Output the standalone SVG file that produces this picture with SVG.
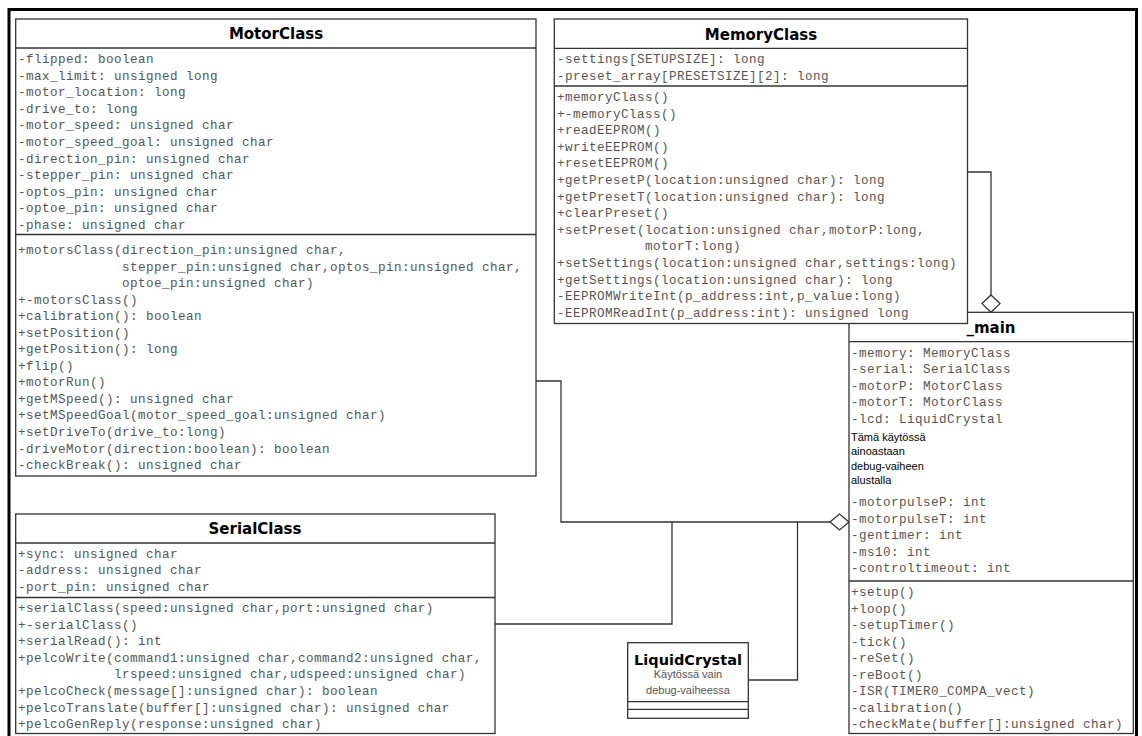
<svg xmlns="http://www.w3.org/2000/svg" width="1142" height="736" viewBox="0 0 1142 736">
<style>
.box{fill:#fff;stroke:#333;stroke-width:1.3}
.sep{stroke:#333;stroke-width:1.3}
.t{font-family:"Liberation Mono",monospace;font-size:12.6px;letter-spacing:0.44px;fill:#555}
.title{font-family:"DejaVu Sans",sans-serif;font-weight:bold;font-size:15px;text-anchor:middle;fill:#000}
.note{font-family:"Liberation Sans",sans-serif;font-size:11px;fill:#000}
.sub{font-family:"Liberation Sans",sans-serif;font-size:11px;fill:#555;text-anchor:middle}
.conn{fill:none;stroke:#333;stroke-width:1.3}
.dia{fill:#fff;stroke:#333;stroke-width:1.3}
</style>
<rect x="9" y="9.5" width="1127.5" height="760" fill="none" stroke="#000" stroke-width="3"/>

<g id="connectors">
<polyline class="conn" points="967.5,172 991,172 991,295"/>
<polygon class="dia" points="991,295 1000,303.6 991,312.3 982,303.6"/>
<polyline class="conn" points="536,381 561,381 561,522 830,522"/>
<polyline class="conn" points="495,624 672,624 672,522"/>
<polyline class="conn" points="748.3,680 797.5,680 797.5,522"/>
<polygon class="dia" points="830,522 839.5,514 849,522 839.5,530"/>
</g>

<g id="MotorClass">
<rect class="box" x="15.7" y="19" width="520.3" height="457"/>
<line class="sep" x1="15.7" y1="48" x2="536" y2="48"/>
<line class="sep" x1="15.7" y1="234.5" x2="536" y2="234.5"/>
<text class="title" x="276" y="39">MotorClass</text>
<text class="t" x="18" y="63">-flipped: boolean</text>
<text class="t" x="18" y="79.6">-max_limit: unsigned long</text>
<text class="t" x="18" y="96.2">-motor_location: long</text>
<text class="t" x="18" y="112.8">-drive_to: long</text>
<text class="t" x="18" y="129.4">-motor_speed: unsigned char</text>
<text class="t" x="18" y="146">-motor_speed_goal: unsigned char</text>
<text class="t" x="18" y="162.6">-direction_pin: unsigned char</text>
<text class="t" x="18" y="179.2">-stepper_pin: unsigned char</text>
<text class="t" x="18" y="195.8">-optos_pin: unsigned char</text>
<text class="t" x="18" y="212.4">-optoe_pin: unsigned char</text>
<text class="t" x="18" y="229">-phase: unsigned char</text>
<text class="t" x="18" y="254">+motorsClass(direction_pin:unsigned char,</text>
<text class="t" x="122" y="270.5">stepper_pin:unsigned char,optos_pin:unsigned char,</text>
<text class="t" x="122" y="287.1">optoe_pin:unsigned char)</text>
<text class="t" x="18" y="303.6">+-motorsClass()</text>
<text class="t" x="18" y="320.2">+calibration(): boolean</text>
<text class="t" x="18" y="336.7">+setPosition()</text>
<text class="t" x="18" y="353.2">+getPosition(): long</text>
<text class="t" x="18" y="369.8">+flip()</text>
<text class="t" x="18" y="386.3">+motorRun()</text>
<text class="t" x="18" y="402.9">+getMSpeed(): unsigned char</text>
<text class="t" x="18" y="419.4">+setMSpeedGoal(motor_speed_goal:unsigned char)</text>
<text class="t" x="18" y="435.9">+setDriveTo(drive_to:long)</text>
<text class="t" x="18" y="452.5">-driveMotor(direction:boolean): boolean</text>
<text class="t" x="18" y="469">-checkBreak(): unsigned char</text>
</g>

<g id="main">
<rect class="box" x="849" y="312.3" width="284.3" height="421.2"/>
<line class="sep" x1="849" y1="341.7" x2="1133.3" y2="341.7"/>
<line class="sep" x1="849" y1="581" x2="1133.3" y2="581"/>
<text class="title" x="991" y="333">_main</text>
<text class="t" x="851" y="356.5">-memory: MemoryClass</text>
<text class="t" x="851" y="373.1">-serial: SerialClass</text>
<text class="t" x="851" y="389.7">-motorP: MotorClass</text>
<text class="t" x="851" y="406.3">-motorT: MotorClass</text>
<text class="t" x="851" y="422.9">-lcd: LiquidCrystal</text>
<text class="note" x="851" y="441">Tämä käytössä</text>
<text class="note" x="851" y="455">ainoastaan</text>
<text class="note" x="851" y="469.5">debug-vaiheen</text>
<text class="note" x="851" y="484">alustalla</text>
<text class="t" x="851" y="506">-motorpulseP: int</text>
<text class="t" x="851" y="522.6">-motorpulseT: int</text>
<text class="t" x="851" y="539.2">-gentimer: int</text>
<text class="t" x="851" y="555.8">-ms10: int</text>
<text class="t" x="851" y="572.4">-controltimeout: int</text>
<text class="t" x="851" y="596">+setup()</text>
<text class="t" x="851" y="612.5">+loop()</text>
<text class="t" x="851" y="629">-setupTimer()</text>
<text class="t" x="851" y="645.5">-tick()</text>
<text class="t" x="851" y="662">-reSet()</text>
<text class="t" x="851" y="678.5">-reBoot()</text>
<text class="t" x="851" y="695">-ISR(TIMER0_COMPA_vect)</text>
<text class="t" x="851" y="711.5">-calibration()</text>
<text class="t" x="851" y="728">-checkMate(buffer[]:unsigned char)</text>
</g>

<g id="MemoryClass">
<rect class="box" x="554.3" y="19" width="413.2" height="304.5"/>
<line class="sep" x1="554.3" y1="48.3" x2="967.5" y2="48.3"/>
<line class="sep" x1="554.3" y1="86" x2="967.5" y2="86"/>
<text class="title" x="761" y="39.5">MemoryClass</text>
<text class="t" x="557" y="63.3">-settings[SETUPSIZE]: long</text>
<text class="t" x="557" y="79.9">-preset_array[PRESETSIZE][2]: long</text>
<text class="t" x="557" y="101">+memoryClass()</text>
<text class="t" x="557" y="117.6">+-memoryClass()</text>
<text class="t" x="557" y="134.2">+readEEPROM()</text>
<text class="t" x="557" y="150.8">+writeEEPROM()</text>
<text class="t" x="557" y="167.4">+resetEEPROM()</text>
<text class="t" x="557" y="184">+getPresetP(location:unsigned char): long</text>
<text class="t" x="557" y="200.6">+getPresetT(location:unsigned char): long</text>
<text class="t" x="557" y="217.2">+clearPreset()</text>
<text class="t" x="557" y="233.8">+setPreset(location:unsigned char,motorP:long,</text>
<text class="t" x="645" y="250.4">motorT:long)</text>
<text class="t" x="557" y="267">+setSettings(location:unsigned char,settings:long)</text>
<text class="t" x="557" y="283.6">+getSettings(location:unsigned char): long</text>
<text class="t" x="557" y="300.2">-EEPROMWriteInt(p_address:int,p_value:long)</text>
<text class="t" x="557" y="316.8">-EEPROMReadInt(p_address:int): unsigned long</text>
</g>

<g id="SerialClass">
<rect class="box" x="15.7" y="514" width="479.3" height="219.5"/>
<line class="sep" x1="15.7" y1="543" x2="495" y2="543"/>
<line class="sep" x1="15.7" y1="597.5" x2="495" y2="597.5"/>
<text class="title" x="255" y="534">SerialClass</text>
<text class="t" x="18" y="557.5">+sync: unsigned char</text>
<text class="t" x="18" y="574">-address: unsigned char</text>
<text class="t" x="18" y="590.5">-port_pin: unsigned char</text>
<text class="t" x="18" y="612">+serialClass(speed:unsigned char,port:unsigned char)</text>
<text class="t" x="18" y="628.6">+-serialClass()</text>
<text class="t" x="18" y="645.2">+serialRead(): int</text>
<text class="t" x="18" y="661.8">+pelcoWrite(command1:unsigned char,command2:unsigned char,</text>
<text class="t" x="114" y="678.4">lrspeed:unsigned char,udspeed:unsigned char)</text>
<text class="t" x="18" y="695">+pelcoCheck(message[]:unsigned char): boolean</text>
<text class="t" x="18" y="711.6">+pelcoTranslate(buffer[]:unsigned char): unsigned char</text>
<text class="t" x="18" y="728.2">+pelcoGenReply(response:unsigned char)</text>
</g>

<g id="LiquidCrystal">
<rect class="box" x="627.7" y="642.7" width="120.6" height="75.6"/>
<line class="sep" x1="627.7" y1="701.7" x2="748.3" y2="701.7"/>
<line class="sep" x1="627.7" y1="709.3" x2="748.3" y2="709.3"/>
<text class="title" x="688" y="665" style="font-size:14.5px">LiquidCrystal</text>
<text class="sub" x="688" y="678">Käytössä vain</text>
<text class="sub" x="688" y="694">debug-vaiheessa</text>
</g>
</svg>
